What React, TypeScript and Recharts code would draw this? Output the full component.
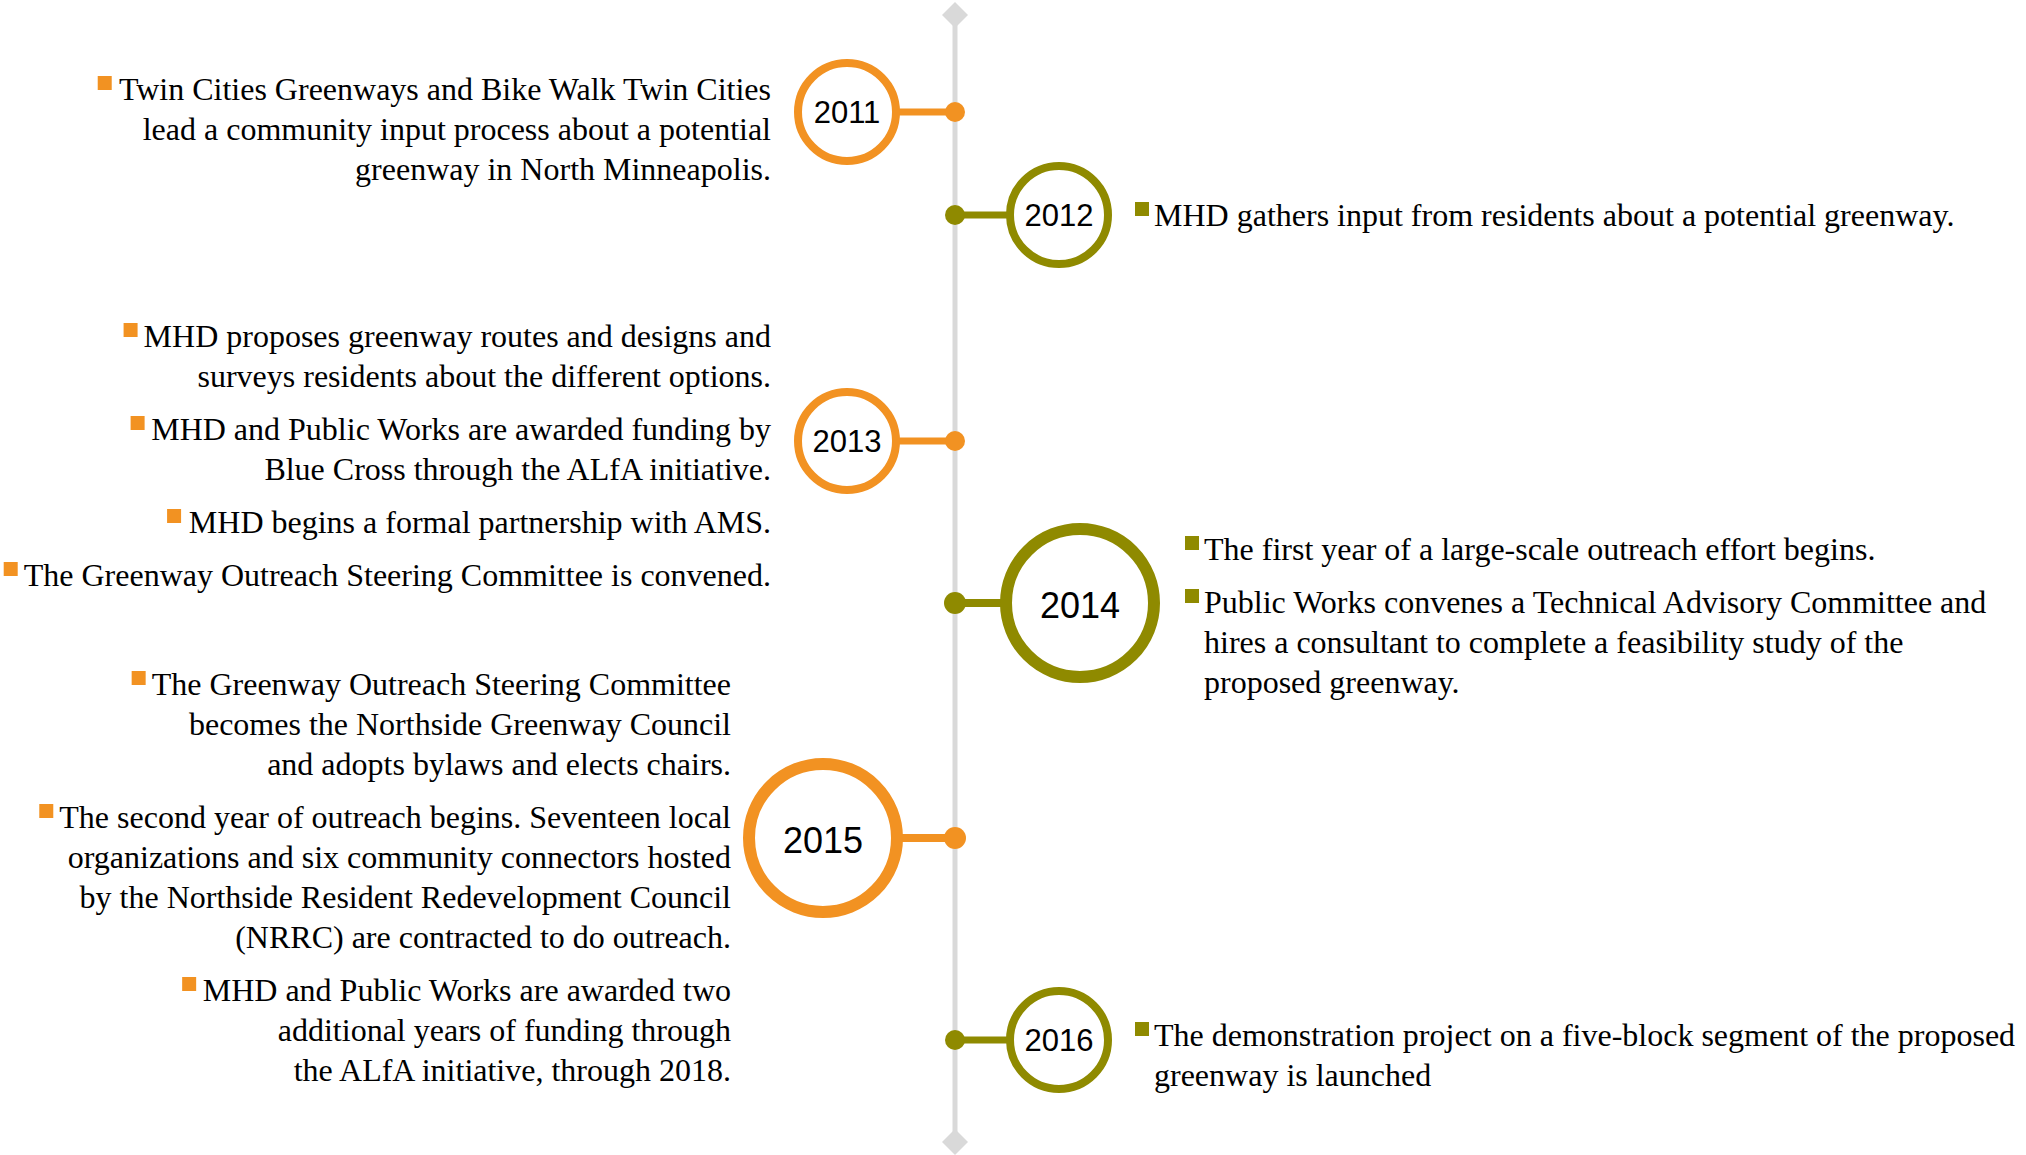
import { ScatterChart, Scatter, XAxis, YAxis } from "recharts";

const W = 2026;
const H = 1155;
const SPINE_X = 955;

// events along the timeline
const years = ["2011", "2012", "2013", "2014", "2015", "2016"];
const yearPos = [112, 215, 441, 603, 838, 1040];
const majorYears = ["2014", "2015"];
const spineEnds = [15, 1142];
const noteStart = [100, 226, 347, 560, 695, 1046];

const notes2011 = [
  [
    "Twin Cities Greenways and Bike Walk Twin Cities",
    "lead a community input process about a potential",
    "greenway in North Minneapolis.",
  ],
];
const notes2012 = [["MHD gathers input from residents about a potential greenway."]];
const notes2013 = [
  ["MHD proposes greenway routes and designs and", "surveys residents about the different options."],
  ["MHD and Public Works are awarded funding by", "Blue Cross through the ALfA initiative."],
  ["MHD begins a formal partnership with AMS."],
  ["The Greenway Outreach Steering Committee is convened."],
];
const notes2014 = [
  ["The first year of a large-scale outreach effort begins."],
  [
    "Public Works convenes a Technical Advisory Committee and",
    "hires a consultant to complete a feasibility study of the",
    "proposed greenway.",
  ],
];
const notes2015 = [
  [
    "The Greenway Outreach Steering Committee",
    "becomes the Northside Greenway Council",
    "and adopts bylaws and elects chairs.",
  ],
  [
    "The second year of outreach begins. Seventeen local",
    "organizations and six community connectors hosted",
    "by the Northside Resident Redevelopment Council",
    "(NRRC) are contracted to do outreach.",
  ],
  [
    "MHD and Public Works are awarded two",
    "additional years of funding through",
    "the ALfA initiative, through 2018.",
  ],
];
const notes2016 = [
  ["The demonstration project on a five-block segment of the proposed", "greenway is launched"],
];
const notes = [notes2011, notes2012, notes2013, notes2014, notes2015, notes2016];

// styling
const ORANGE = "#f29222";
const OLIVE = "#8f8a00";
const SPINE = "#d9d9d9";
const NOTE_SIZE = 32;
const NOTE_FONT = `${NOTE_SIZE}px "Liberation Serif", "Times New Roman", serif`;
const LINE = 40;
const PARA_GAP = 13;
const BULLET = 14;

const ring = {
  small: { r: 49, width: 8, font: 31, dot: 10, link: 7, dy: "0.36em" },
  large: { r: 74, width: 12, font: 36, dot: 11, link: 8, dy: "0.42em" },
};
const circleOffset = { left: { small: 108, large: 132 }, right: { small: 104, large: 125 } };
const noteGap = { left: { small: 23, large: 12 }, right: { small: 23, large: 25 } };

let measureCtx: CanvasRenderingContext2D | null = null;
function textWidth(s: string) {
  if (!measureCtx) measureCtx = document.createElement("canvas").getContext("2d");
  if (!measureCtx) return s.length * NOTE_SIZE * 0.45;
  measureCtx.font = NOTE_FONT;
  return measureCtx.measureText(s).width;
}

const events = years.map((year, i) => {
  const side = i % 2 === 0 ? "left" : "right";
  const size = majorYears.includes(year) ? "large" : "small";
  const dir = side === "left" ? -1 : 1;
  const st = ring[size];
  const cx = dir * circleOffset[side][size];
  return {
    year,
    side,
    size,
    color: side === "left" ? ORANGE : OLIVE,
    y: yearPos[i],
    circleX: cx,
    noteX: cx + dir * (st.r + st.width / 2 + noteGap[side][size]),
    noteY: noteStart[i],
    items: notes[i],
  };
});

function Diamond({ cx, cy }: any) {
  return <path d={`M${cx},${cy - 13} L${cx + 13},${cy} L${cx},${cy + 13} L${cx - 13},${cy} Z`} fill={SPINE} />;
}

function YearCircle({ cx, cy, payload }: any) {
  const st = ring[payload.size as "small" | "large"];
  return (
    <g>
      <circle cx={cx} cy={cy} r={st.r} fill="#fff" stroke={payload.color} strokeWidth={st.width} />
      <text
        x={cx}
        y={cy}
        dy={st.dy}
        textAnchor="middle"
        fontFamily='"Liberation Sans", Arial, sans-serif'
        fontSize={st.font}
        fill="#000"
      >
        {payload.year}
      </text>
    </g>
  );
}

function NoteBlock({ cx, cy, payload }: any) {
  const left = payload.side === "left";
  const out: any[] = [];
  let y = cy;
  payload.items.forEach((lines: string[], i: number) => {
    const w = textWidth(lines[0]);
    const bx = left ? cx - w - 6 - BULLET : cx;
    out.push(<rect key={`b${i}`} x={bx} y={y - 24} width={BULLET} height={BULLET} fill={payload.color} />);
    lines.forEach((ln, j) => {
      out.push(
        <text
          key={`t${i}-${j}`}
          x={left ? cx : cx + BULLET + 5}
          y={y + j * LINE}
          textAnchor={left ? "end" : "start"}
          fontFamily='"Liberation Serif", "Times New Roman", serif'
          fontSize={NOTE_SIZE}
          fill="#000"
        >
          {ln}
        </text>
      );
    });
    y += lines.length * LINE + PARA_GAP;
  });
  return <g>{out}</g>;
}

export default function App() {
  const spineData = spineEnds.map((y) => ({ x: 0, y }));
  const circleData = events.map((e) => ({ ...e, x: e.circleX }));
  const noteData = events.map((e) => ({ ...e, x: e.noteX, y: e.noteY }));

  return (
    <div style={{ position: "absolute", left: 0, top: 0, background: "#fff" }}>
      <ScatterChart width={W} height={H} margin={{ top: 0, right: 0, bottom: 0, left: 0 }}>
        <XAxis type="number" dataKey="x" domain={[-SPINE_X, W - SPINE_X]} hide allowDataOverflow />
        <YAxis type="number" dataKey="y" domain={[0, H]} reversed hide allowDataOverflow />
        <Scatter
          data={spineData}
          line={{ stroke: SPINE, strokeWidth: 5 }}
          shape={(p: any) => <Diamond {...p} />}
          isAnimationActive={false}
        />
        {events.map((e) => {
          const st = ring[e.size as "small" | "large"];
          return (
            <Scatter
              key={`link-${e.year}`}
              data={[
                { x: 0, y: e.y, spine: true },
                { x: e.circleX, y: e.y, spine: false },
              ]}
              line={{ stroke: e.color, strokeWidth: st.link }}
              shape={(p: any) =>
                p.payload.spine ? <circle cx={p.cx} cy={p.cy} r={st.dot} fill={e.color} /> : <g />
              }
              isAnimationActive={false}
            />
          );
        })}
        <Scatter data={circleData} shape={(p: any) => <YearCircle {...p} />} isAnimationActive={false} />
        <Scatter data={noteData} shape={(p: any) => <NoteBlock {...p} />} isAnimationActive={false} />
      </ScatterChart>
    </div>
  );
}
